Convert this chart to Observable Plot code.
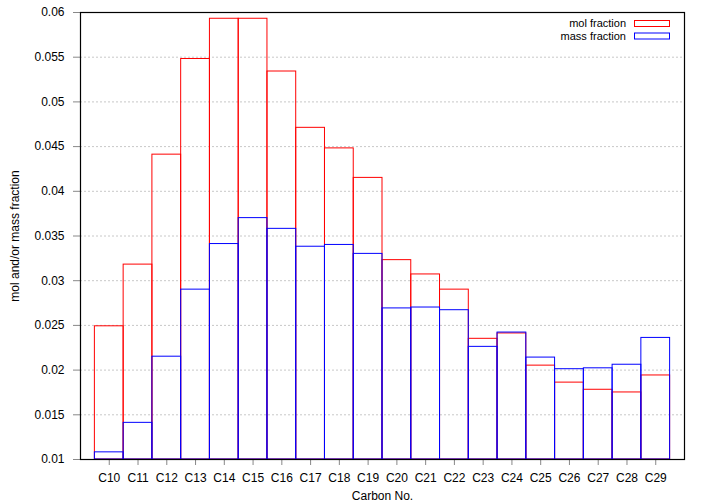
<!DOCTYPE html>
<html>
<head>
<meta charset="utf-8">
<script src="https://cdn.jsdelivr.net/npm/d3@7"></script>
<script src="https://cdn.jsdelivr.net/npm/@observablehq/plot@0.6"></script>
<style>
  html, body { margin: 0; padding: 0; background: #fff; }
  svg { font-family: "Liberation Sans", Arial, sans-serif; }
</style>
</head>
<body>
<div id="chart"></div>
<script>
const carbonNumbers = [10, 11, 12, 13, 14, 15, 16, 17, 18, 19, 20, 21, 22, 23, 24, 25, 26, 27, 28, 29];
const categories = carbonNumbers.map(n => "C" + n);
const molFraction = [0.0249, 0.0318, 0.0441, 0.0548, 0.0593, 0.0593, 0.0534, 0.0471, 0.0448, 0.0415,
                     0.0323, 0.0307, 0.0290, 0.0235, 0.0241, 0.0205, 0.0186, 0.0178, 0.0175, 0.0194];
const massFraction = [0.0108, 0.0141, 0.0215, 0.0290, 0.0341, 0.0370, 0.0358, 0.0338, 0.0340, 0.0330,
                      0.0269, 0.0270, 0.0267, 0.0226, 0.0242, 0.0214, 0.0201, 0.0202, 0.0206, 0.0236];
const yTicks = [0.01, 0.015, 0.02, 0.025, 0.03, 0.035, 0.04, 0.045, 0.05, 0.055, 0.06];
const yDomain = [0.01, 0.06];
const xDomain = [9, 30];
const seriesNames = ["mol fraction", "mass fraction"];
const seriesColors = ["#ff0000", "#0000ff"];

const mol = carbonNumbers.map((n, i) => ({n, label: categories[i], v: molFraction[i]}));
const mass = carbonNumbers.map((n, i) => ({n, label: categories[i], v: massFraction[i]}));

const plot = Plot.plot({
  width: 705,
  height: 504,
  marginLeft: 80,
  marginRight: 21,
  marginTop: 12,
  marginBottom: 45,
  style: {fontFamily: '"Liberation Sans", Arial, sans-serif', fontSize: "12px", color: "#000", background: "#fff"},
  x: {domain: xDomain},
  y: {domain: yDomain},
  marks: [
    Plot.gridY(yTicks, {stroke: "#c8c8c8", strokeOpacity: 1, strokeDasharray: "2,2"}),
    Plot.rect(mol, {x1: d => d.n - 0.5, x2: d => d.n + 0.5, y1: () => yDomain[0], y2: "v", fill: "none", stroke: seriesColors[0], strokeWidth: 1}),
    Plot.rect(mass, {x1: d => d.n - 0.5, x2: d => d.n + 0.5, y1: () => yDomain[0], y2: "v", fill: "none", stroke: seriesColors[1], strokeWidth: 1}),
    Plot.axisY(yTicks, {tickSize: 7, tickPadding: 9, stroke: "#888", tickFormat: d => String(+d.toFixed(3)),
      label: "mol and/or mass fraction", labelAnchor: "center", labelArrow: "none", labelOffset: 70}),
    Plot.axisX(carbonNumbers, {tickSize: 6, tickPadding: 8, stroke: "#888", tickFormat: (d, i) => categories[i],
      label: "Carbon No.", labelAnchor: "center", labelArrow: "none", labelOffset: 40}),
    Plot.frame({stroke: "#000", strokeWidth: 1.2})
  ]
});

const svg = d3.select(plot);
const legend = svg.append("g").attr("font-size", 11).attr("font-family", '"Liberation Sans", Arial, sans-serif');
seriesNames.forEach((name, i) => {
  const cy = 23.5 + i * 12.5;
  legend.append("text").attr("x", 626).attr("y", cy).attr("dy", "0.35em").attr("text-anchor", "end").attr("fill", "#000").text(name);
  legend.append("rect").attr("x", 634.5).attr("y", cy - 3).attr("width", 35).attr("height", 6)
    .attr("fill", "none").attr("stroke", seriesColors[i]).attr("stroke-width", 1);
});

document.getElementById("chart").appendChild(plot);
</script>
</body>
</html>
